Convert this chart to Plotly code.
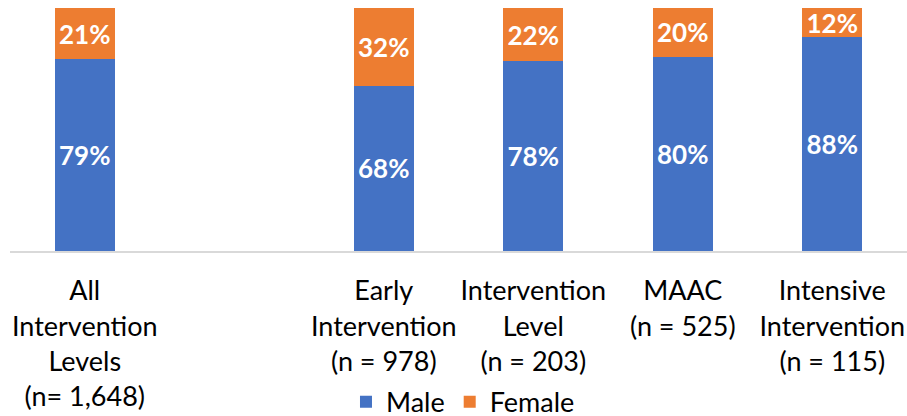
import plotly.graph_objects as go

categories = ["All Intervention Levels", " ", "Early Intervention", "Intervention Level", "MAAC", "Intensive Intervention"]
tick_labels = [
    "All<br>Intervention<br>Levels<br>(n= 1,648)",
    " ",
    "Early<br>Intervention<br>(n = 978)",
    "Intervention<br>Level<br>(n = 203)",
    "MAAC<br>(n = 525)",
    "Intensive<br>Intervention<br>(n = 115)",
]
male = [79, None, 68, 78, 80, 88]
female = [21, None, 32, 22, 20, 12]

BLUE = "#4472C4"
ORANGE = "#ED7D31"
FONT = "Lato"

fig = go.Figure()
for name, vals, color in [("Male", male, BLUE), ("Female", female, ORANGE)]:
    fig.add_trace(go.Bar(
        name=name,
        x=categories,
        y=vals,
        marker=dict(color=color, line=dict(width=0)),
        width=0.4,
        text=[f"{v}%" if v is not None else "" for v in vals],
        textposition="inside",
        insidetextanchor="middle",
        constraintext="none",
        textfont=dict(family=FONT, size=26, color="white", weight="bold"),
    ))

fig.update_layout(
    barmode="stack",
    width=907,
    height=416,
    margin=dict(l=10, r=0, t=8, b=165, autoexpand=False),
    paper_bgcolor="white",
    plot_bgcolor="white",
    font=dict(family=FONT, size=28, color="#000000"),
    showlegend=True,
    legend=dict(
        orientation="h",
        x=0.505,
        xanchor="center",
        yref="container",
        y=0.092,
        yanchor="top",
        font=dict(family=FONT, size=27, color="#000000"),
        traceorder="normal",
        itemwidth=30,
        tracegroupgap=0,
    ),
    xaxis=dict(
        type="category",
        categoryorder="array",
        categoryarray=categories,
        tickvals=categories,
        ticktext=tick_labels,
        tickangle=0,
        range=[-0.5, 5.5],
        automargin=False,
        showline=True,
        linecolor="#d9d9d9",
        linewidth=2,
        showgrid=False,
        ticks="",
        ticklabelstandoff=15,
        tickfont=dict(family=FONT, size=27, color="#000000"),
    ),
    yaxis=dict(
        range=[0, 100],
        visible=False,
        showgrid=False,
        zeroline=False,
    ),
)

fig.write_html("out.html")
